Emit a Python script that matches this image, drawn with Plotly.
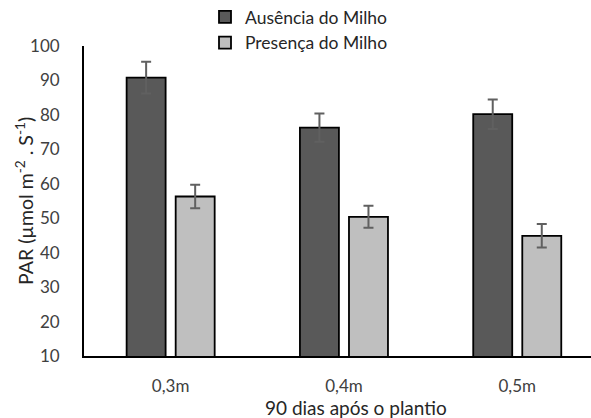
import plotly.graph_objects as go

categories = ["0,3m", "0,4m", "0,5m"]
ausencia = [90.8, 76.3, 80.2]
ausencia_err = [4.6, 4.1, 4.3]
presenca = [56.3, 50.4, 44.9]
presenca_err = [3.4, 3.2, 3.4]

FONT = "Lato"
TXT = "#404040"

fig = go.Figure()
fig.add_trace(go.Bar(
    x=categories, y=ausencia, name="Ausência do Milho",
    width=0.225, offset=-0.254,
    marker=dict(color="#595959", line=dict(color="#000000", width=1.8)),
    error_y=dict(type="data", array=ausencia_err, visible=True,
                 color="#606060", thickness=2, width=5),
))
fig.add_trace(go.Bar(
    x=categories, y=presenca, name="Presença do Milho",
    width=0.225, offset=0.029,
    marker=dict(color="#BFBFBF", line=dict(color="#000000", width=1.8)),
    error_y=dict(type="data", array=presenca_err, visible=True,
                 color="#606060", thickness=2, width=5),
))

fig.update_layout(
    width=591, height=418,
    margin=dict(l=84, r=0, t=46, b=62, pad=0, autoexpand=False),
    paper_bgcolor="white", plot_bgcolor="white",
    font=dict(family=FONT, size=17, color=TXT),
    barmode="overlay",
    showlegend=True,
    legend=dict(x=(205 - 84) / 507, xanchor="left", y=1 + (46 + 1) / 310, yanchor="top",
                font=dict(family=FONT, size=17.5, color="#262626"),
                bgcolor="rgba(0,0,0,0)", itemclick=False),
    xaxis=dict(range=[-0.5, -0.5 + 507 / 173.3], showline=True, linecolor="#000000",
               linewidth=1.8, ticks="", showgrid=False, zeroline=False, automargin=False,
               tickfont=dict(family=FONT, size=17, color=TXT),
               ticklabelstandoff=14, fixedrange=True),
    yaxis=dict(range=[10, 100], tickvals=[10, 20, 30, 40, 50, 60, 70, 80, 90, 100],
               showline=True, linecolor="#000000", linewidth=1.8, ticks="",
               showgrid=False, zeroline=False, automargin=False,
               tickfont=dict(family=FONT, size=17, color=TXT),
               ticklabelstandoff=19, fixedrange=True),
    annotations=[
        dict(text="90 dias após o plantio", xref="paper", yref="paper",
             x=(356 - 84) / 507, y=-(407 - 356) / 310, xanchor="center", yanchor="middle",
             showarrow=False, font=dict(family=FONT, size=19, color="#262626")),
        dict(text="PAR (µmol m<sup>-2</sup> . S<sup>-1</sup>)", xref="paper", yref="paper",
             x=-(84 - 24) / 507, y=0.5, xanchor="center", yanchor="middle",
             textangle=-90, showarrow=False,
             font=dict(family=FONT, size=19.5, color="#262626")),
    ],
)

fig.write_html(
    "out.html",
    config={"displayModeBar": False},
    post_script="document.body.style.margin='0';document.body.style.overflow='hidden';",
)
